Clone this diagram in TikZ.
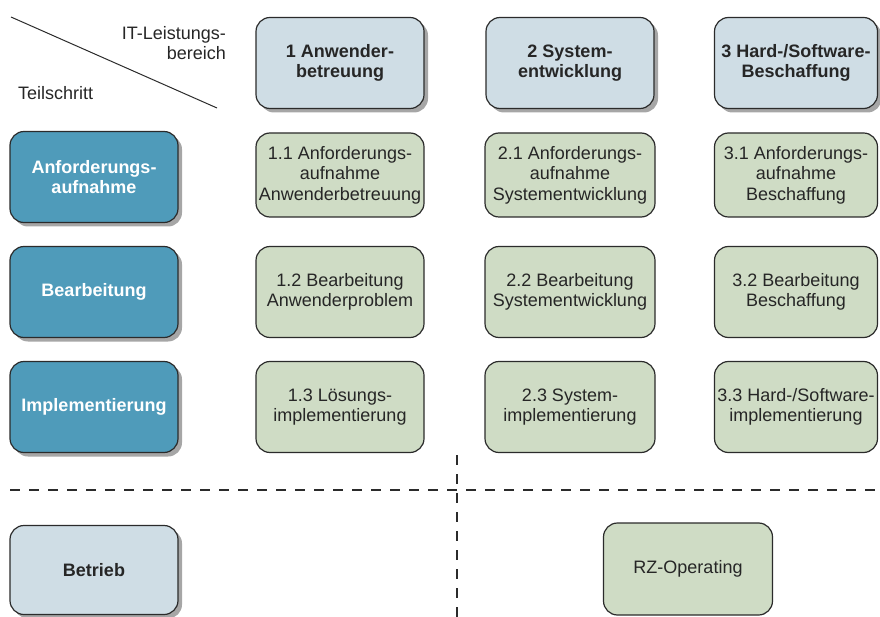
\documentclass[tikz,border=0pt]{standalone}
\usepackage{fontspec}
\setmainfont{Liberation Sans}
\usetikzlibrary{shadows}
\definecolor{hellblau}{HTML}{CFDDE5}
\definecolor{dunkelblau}{HTML}{4F9BBA}
\definecolor{hellgruen}{HTML}{CFDCC5}
\definecolor{rand}{HTML}{2B2B2B}
\definecolor{schrift}{HTML}{262626}

\begin{document}
\begin{tikzpicture}[x=1pt,y=-1pt,
  box/.style={draw=rand,line width=1.2pt,rounded corners=14pt,minimum width=168pt,minimum height=91pt,inner sep=1pt,align=center,text=schrift,font=\fontsize{18}{20.5}\selectfont},
  schatten/.style={drop shadow={shadow xshift=4pt,shadow yshift=-4pt,fill=black!35,opacity=1}},
  bereich/.style={box,schatten,fill=hellblau,font=\fontsize{18}{20.5}\selectfont\bfseries},
  schritt/.style={box,schatten,fill=dunkelblau,text=white,font=\fontsize{18}{20.5}\selectfont\bfseries},
  aufgabe/.style={box,fill=hellgruen},
  trenner/.style={line width=1.1pt,draw=rand,dash pattern=on 10pt off 9pt}]
\useasboundingbox (0,0) rectangle (880,617);
% Kopfzeile
\coordinate (d1) at (11,17);
\coordinate (d2) at (217,108);
\draw[line width=1pt,rand] (d1) -- (d2);
\node[anchor=north east,inner sep=0pt,align=right,text=schrift,font=\fontsize{18}{20.5}\selectfont] (it) at (226,26) {IT-Leistungs-\\bereich};
\node[anchor=base west,inner sep=0pt,text=schrift,font=\fontsize{18}{20.5}\selectfont] (ts) at (18,100) {Teilschritt};
\node[bereich] (b1) at (340,63) {1 Anwender-\\betreuung};
\node[bereich] (b2) at (570,63) {2 System-\\entwicklung};
\node[bereich,minimum width=163pt] (b3) at (796,63) {3 Hard-/Software-\\Beschaffung};
% Teilschritte
\node[schritt] (s1) at (94,177) {Anforderungs-\\aufnahme};
\node[schritt] (s2) at (94,292) {Bearbeitung};
\node[schritt] (s3) at (94,407) {Implementierung};
\node[bereich,minimum height=89pt] (s4) at (94,570) {Betrieb};
% Aufgaben
\node[aufgabe,minimum height=84pt] (a11) at (340,175) {1.1 Anforderungs-\\aufnahme\\Anwenderbetreuung};
\node[aufgabe,minimum width=170pt,minimum height=84pt] (a21) at (570,175) {2.1 Anforderungs-\\aufnahme\\Systementwicklung};
\node[aufgabe,minimum width=163pt,minimum height=84pt] (a31) at (796,175) {3.1 Anforderungs-\\aufnahme\\Beschaffung};
\node[aufgabe] (a12) at (340,292) {1.2 Bearbeitung\\Anwenderproblem};
\node[aufgabe,minimum width=170pt] (a22) at (570,292) {2.2 Bearbeitung\\Systementwicklung};
\node[aufgabe,minimum width=163pt] (a32) at (796,292) {3.2 Bearbeitung\\Beschaffung};
\node[aufgabe] (a13) at (340,407) {1.3 L\"osungs-\\implementierung};
\node[aufgabe,minimum width=170pt] (a23) at (570,407) {2.3 System-\\implementierung};
\node[aufgabe,minimum width=163pt] (a33) at (796,407) {3.3 Hard-/Software-\\implementierung};
\node[aufgabe,minimum width=169pt,minimum height=92pt] (rz) at (688,569) {RZ-Operating};
% Trennlinien
\draw[trenner] (10,490) -- (880,490);
\draw[trenner] (457,455) -- (457,617);
\end{tikzpicture}
\end{document}
